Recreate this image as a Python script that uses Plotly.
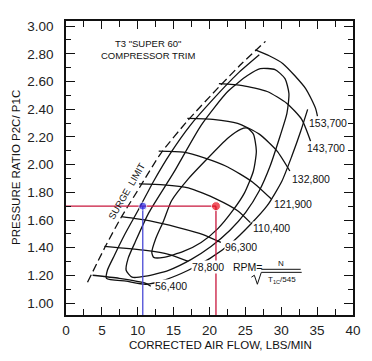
import plotly.graph_objects as go

# ---------------- data ----------------
# surge limit (dashed)
surge_flow = [3.0, 5.5, 7.7, 10.2, 13.2, 17.0, 21.3, 24.5, 27.8]
surge_pr = [1.15, 1.41, 1.62, 1.83, 2.08, 2.32, 2.56, 2.73, 2.89]

# constant speed lines
speed_labels = ["56,400", "78,800", "96,300", "110,400", "121,900", "132,800", "143,700", "153,700"]
spd_56400_flow = [3.71, 7.42, 11.13, 11.82]
spd_56400_pr = [1.201, 1.179, 1.143, 1.122]
spd_78800_flow = [5.36, 11.13, 14.30, 17.04]
spd_78800_pr = [1.409, 1.380, 1.352, 1.301]
spd_96300_flow = [7.70, 11.55, 15.67, 19.11, 21.58]
spd_96300_pr = [1.624, 1.595, 1.545, 1.495, 1.438]
spd_110400_flow = [10.17, 13.61, 17.04, 20.90, 23.92, 25.70]
spd_110400_pr = [1.861, 1.854, 1.832, 1.753, 1.667, 1.581]
spd_121900_flow = [12.92, 16.36, 19.38, 22.54, 25.98, 28.59]
spd_121900_pr = [2.098, 2.090, 2.047, 1.983, 1.875, 1.753]
spd_132800_flow = [16.91, 20.48, 23.92, 26.94, 29.42, 31.20]
spd_132800_pr = [2.334, 2.327, 2.298, 2.220, 2.098, 1.954]
spd_143700_flow = [21.31, 24.60, 28.04, 30.79, 32.85, 34.09]
spd_143700_pr = [2.585, 2.571, 2.528, 2.442, 2.327, 2.169]
spd_153700_flow = [26.39, 28.32, 30.24, 33.40, 34.78, 35.05]
spd_153700_pr = [2.829, 2.786, 2.729, 2.549, 2.406, 2.349]
speed_label_flow = [12.23, 17.46, 21.99, 25.98, 28.87, 31.34, 33.40, 33.68]
speed_label_pr = [1.122, 1.258, 1.402, 1.545, 1.717, 1.897, 2.119, 2.298]

# efficiency islands
eff_inner_flow = [11.96, 12.51, 13.61, 14.71, 17.04, 19.38, 22.54, 24.33, 25.29, 26.12, 26.53,
                  26.12, 24.88, 23.23, 21.17, 18.83, 16.36, 13.61, 12.23, 11.96]
eff_inner_pr = [1.366, 1.466, 1.595, 1.739, 1.897, 2.026, 2.191, 2.255, 2.263, 2.220, 2.098,
                1.954, 1.796, 1.667, 1.538, 1.438, 1.373, 1.330, 1.330, 1.366]
eff_mid_flow = [8.38, 8.66, 9.62, 11.55, 14.98, 18.83, 22.54, 25.29, 27.08, 29.14, 30.52, 31.07,
                30.79, 29.83, 28.45, 26.94, 25.02, 22.82, 20.21, 17.46, 14.30, 11.13, 9.21, 8.38]
eff_mid_pr = [1.237, 1.323, 1.438, 1.653, 1.940, 2.284, 2.528, 2.643, 2.693, 2.686, 2.621, 2.514,
              2.370, 2.205, 1.990, 1.811, 1.653, 1.524, 1.409, 1.316, 1.237, 1.194, 1.187, 1.237]
eff_outer_flow = [26.94, 23.92, 20.48, 17.32, 14.57, 12.23, 10.17, 8.11, 6.74, 5.77, 5.64, 8.38,
                  11.13, 14.02, 17.04, 20.07, 22.96, 25.70, 28.04, 30.10, 31.48, 32.71, 33.68]
eff_outer_pr = [2.793, 2.657, 2.471, 2.284, 2.083, 1.882, 1.681, 1.488, 1.344, 1.237, 1.179, 1.158,
                1.136, 1.172, 1.237, 1.323, 1.430, 1.567, 1.703, 1.882, 2.062, 2.241, 2.399]

# operating points
op_flow = [10.7, 20.9]
op_pr = [1.70, 1.70]

x_ticks = [0, 5, 10, 15, 20, 25, 30, 35, 40]
y_ticks = [1.0, 1.2, 1.4, 1.6, 1.8, 2.0, 2.2, 2.4, 2.6, 2.8, 3.0]
x_range = [0, 40]
y_range = [0.914, 3.037]

FONT = "Liberation Sans, Arial, sans-serif"
BLACK = "#111111"

fig = go.Figure()

def curve(x, y, dash=None, width=1.3):
    fig.add_trace(go.Scatter(x=x, y=y, mode="lines", hoverinfo="skip", showlegend=False,
                             line=dict(color=BLACK, width=width, shape="spline", smoothing=0.6,
                                       dash=dash)))

for fx, fy in [(eff_inner_flow, eff_inner_pr), (eff_mid_flow, eff_mid_pr), (eff_outer_flow, eff_outer_pr)]:
    curve(fx, fy)

speed_lines = [(spd_56400_flow, spd_56400_pr), (spd_78800_flow, spd_78800_pr),
               (spd_96300_flow, spd_96300_pr), (spd_110400_flow, spd_110400_pr),
               (spd_121900_flow, spd_121900_pr), (spd_132800_flow, spd_132800_pr),
               (spd_143700_flow, spd_143700_pr), (spd_153700_flow, spd_153700_pr)]
for fx, fy in speed_lines:
    curve(fx, fy)

curve(surge_flow, surge_pr, dash="8px,4px", width=1.3)

# operating point guide lines
RED_LINE = "#c8163c"
BLUE_LINE = "#4a4ad6"
fig.add_trace(go.Scatter(x=[x_range[0], op_flow[1]], y=[op_pr[1], op_pr[1]], mode="lines",
                         line=dict(color=RED_LINE, width=1.3), showlegend=False, hoverinfo="skip"))
fig.add_trace(go.Scatter(x=[op_flow[1], op_flow[1]], y=[op_pr[1], y_range[0]], mode="lines",
                         line=dict(color=RED_LINE, width=1.3), showlegend=False, hoverinfo="skip"))
fig.add_trace(go.Scatter(x=[op_flow[0], op_flow[0]], y=[op_pr[0], y_range[0]], mode="lines",
                         line=dict(color=BLUE_LINE, width=1.3), showlegend=False, hoverinfo="skip"))
fig.add_trace(go.Scatter(x=op_flow, y=op_pr, mode="markers",
                         marker=dict(color=["#2a2ae6", "#e8101e"], size=[8, 9]),
                         showlegend=False, hoverinfo="skip"))

# speed labels
for lab, lx, ly in zip(speed_labels, speed_label_flow, speed_label_pr):
    fig.add_annotation(x=lx, y=ly, text=lab, showarrow=False, xanchor="left", yanchor="middle",
                       font=dict(family=FONT, size=10.5, color=BLACK), bgcolor="white", borderpad=0)

# RPM formula
fig.add_annotation(x=22.96, y=1.258, text="RPM=", showarrow=False, xanchor="left", yanchor="middle",
                   font=dict(family=FONT, size=10.5, color=BLACK))
fig.add_annotation(x=29.97, y=1.287, text="N", showarrow=False, xanchor="center", yanchor="middle",
                   font=dict(family=FONT, size=8, color=BLACK))
fig.add_annotation(x=30.10, y=1.165, text="T<sub>1C</sub>/545", showarrow=False, xanchor="center",
                   yanchor="middle", font=dict(family=FONT, size=8, color=BLACK))
fig.add_shape(type="line", x0=27.22, x1=32.71, y0=1.244, y1=1.244, line=dict(color=BLACK, width=1))
fig.add_shape(type="path", path="M 25.84,1.187 L 26.25,1.201 L 26.67,1.136 L 27.22,1.222 L 32.85,1.222",
              line=dict(color=BLACK, width=1))

# surge label
fig.add_annotation(x=8.52, y=1.811, text="SURGE  LIMIT", showarrow=False, textangle=-60,
                   xanchor="center", yanchor="middle",
                   font=dict(family=FONT, size=9.5, color=BLACK))

# chart title
fig.add_annotation(x=11.41, y=2.829, text='T3 "SUPER 60"<br>COMPRESSOR TRIM', showarrow=False,
                   xanchor="center", yanchor="middle",
                   font=dict(family=FONT, size=9.5, color=BLACK), align="center")

# axis titles
fig.add_annotation(xref="paper", yref="paper", x=0.54, y=-0.101, text="CORRECTED AIR FLOW, LBS/MIN",
                   showarrow=False, xanchor="center", yanchor="middle",
                   font=dict(family=FONT, size=11.5, color=BLACK))
fig.add_annotation(xref="paper", yref="paper", x=-0.175, y=0.503, text="PRESSURE RATIO P2C/ P1C",
                   showarrow=False, textangle=-90, xanchor="center", yanchor="middle",
                   font=dict(family=FONT, size=11.5, color=BLACK))

axis_common = dict(showline=True, linecolor=BLACK, linewidth=1.5, mirror="allticks",
                   ticks="inside", tickcolor=BLACK, tickwidth=1.2, showgrid=False, zeroline=False,
                   tickfont=dict(family=FONT, size=13.5, color="#222222"))

fig.update_xaxes(range=x_range, tickvals=x_ticks, ticklen=8, ticklabelstandoff=2,
                 minor=dict(dtick=2.5, tick0=0, ticks="inside", ticklen=6, tickcolor=BLACK,
                            tickwidth=1.2, showgrid=False),
                 **axis_common)
fig.update_yaxes(range=y_range, tickvals=y_ticks, tickformat=".2f", ticklen=9, ticklabelstandoff=8,
                 minor=dict(dtick=0.1, tick0=1.0, ticks="inside", ticklen=5, tickcolor=BLACK,
                            tickwidth=1.2, showgrid=False),
                 **axis_common)

# the page adds an 8 px body margin, so the figure is 8 px smaller and its margins 8 px tighter
fig.update_layout(width=364, height=353, margin=dict(l=58, r=15, t=11, b=46),
                  plot_bgcolor="white", paper_bgcolor="white", showlegend=False)

fig.write_html("out.html")
